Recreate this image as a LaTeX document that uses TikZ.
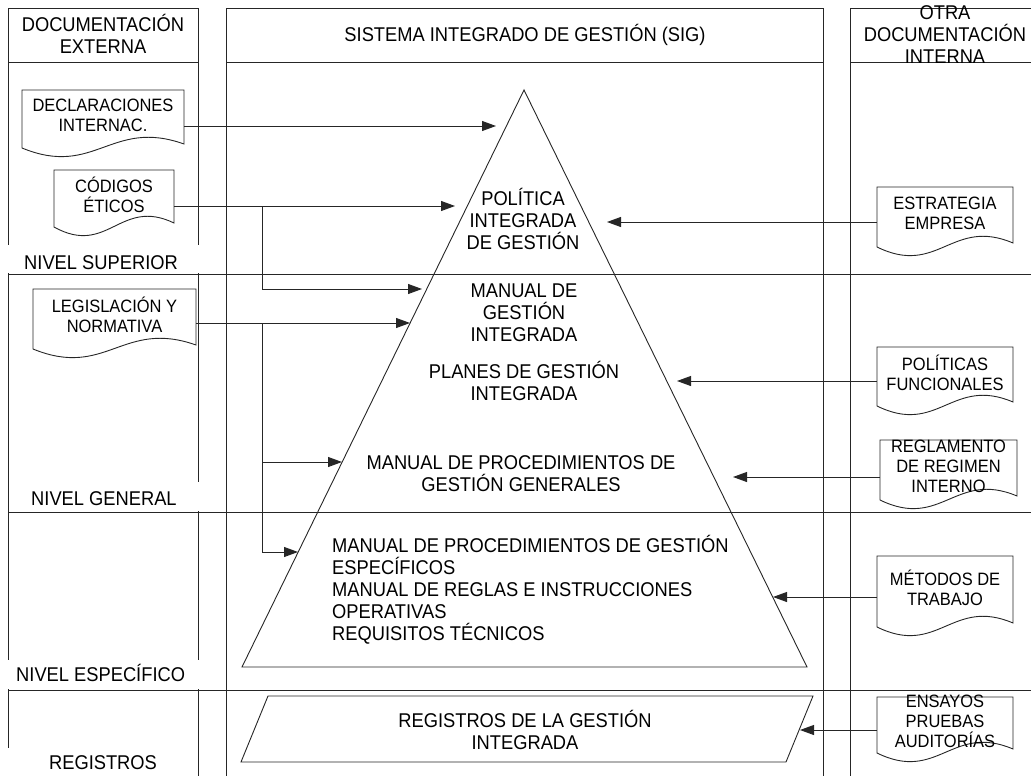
\documentclass[tikz,border=0pt]{standalone}
\usepackage{fontspec}
\setmainfont{Liberation Sans}[FakeStretch=0.92]
\usetikzlibrary{arrows.meta,calc}

% document symbol: straight top and sides, wavy bottom edge
% #1 name, #2 left x, #3 right x, #4 top y, #5 bottom-left y, #6 text
\newcommand\docshape[6]{%
  \draw[shapeline] (#2,#5) -- (#2,#4) -- (#3,#4) -- (#3,#5-4)
    .. controls ({#2+0.55*(#3-#2)},#5-30) and ({#2+0.45*(#3-#2)},#5+30) .. (#2,#5) -- cycle;
  \node[doctext, minimum width={#3-#2}] (#1) at ({(#2+#3)/2},{(#4+#5)/2-4}) {#6};
}

\begin{document}
\begin{tikzpicture}[x=1pt,y=-1pt,
  grid/.style={line width=0.9pt, draw=black!85},
  shapeline/.style={line width=0.9pt, draw=black!85},
  arr/.style={line width=0.9pt, draw=black!85, -{Triangle[length=14pt,width=10pt]}},
  maintext/.style={font=\fontsize{19.9}{22}\selectfont, align=center, inner sep=0pt},
  doctext/.style={font=\fontsize{17.9}{20}\selectfont, align=center, inner sep=0pt},
  lvl/.style={font=\fontsize{19.9}{22}\selectfont, inner sep=0pt},
  labelbg/.style={fill=white, draw=none},
]
\useasboundingbox (0,0) rectangle (1031,776);

% ---- column frames ----
\draw[grid] (8,776) -- (8,8) -- (198,8) -- (198,776);
\draw[grid] (226,776) -- (226,8) -- (823,8) -- (823,776);
\draw[grid] (850,776) -- (850,8) -- (1031,8);
\draw[grid] (8,62) -- (198,62);
\draw[grid] (226,62) -- (823,62);
\draw[grid] (850,62) -- (1031,62);
% level separators
\draw[grid] (8,274) -- (1031,274);
\draw[grid] (8,512) -- (1031,512);
\draw[grid] (8,690) -- (1031,690);

% ---- level labels ----
\fill[labelbg] (0,245) rectangle (199,273);
\node[lvl, anchor=base west] (lsup) at (24,269) {NIVEL SUPERIOR};
\fill[labelbg] (10,482) rectangle (199,511);
\node[lvl, anchor=base west] (lgen) at (31,505) {NIVEL GENERAL};
\fill[labelbg] (0,660) rectangle (199,689);
\node[lvl, anchor=base west] (lesp) at (16,681) {NIVEL ESPECÍFICO};
\fill[labelbg] (0,748) rectangle (197,776);
\node[lvl, anchor=base] (lreg) at (103,769.5) {REGISTROS};

% ---- headers ----
\node[maintext] (hleft) at (103,34) {DOCUMENTACIÓN\\EXTERNA};
\node[maintext] (hmid) at (525,35) {SISTEMA INTEGRADO DE GESTIÓN (SIG)};
\node[maintext] (hright) at (945,35) {OTRA\\DOCUMENTACIÓN\\INTERNA};

% ---- pyramid ----
\coordinate (apex) at (524,90);
\coordinate (bright) at (807,667);
\coordinate (bleft) at (242,667);
\draw[shapeline] (apex) -- (bright) -- (bleft) -- cycle;

\node[maintext] (pol) at (523,219) {POLÍTICA\\INTEGRADA\\DE GESTIÓN};
\node[maintext] (man) at (524,313) {MANUAL DE\\GESTIÓN\\INTEGRADA};
\node[maintext] (plan) at (524,381) {PLANES DE GESTIÓN\\INTEGRADA};
\node[maintext] (mpg) at (521,474) {MANUAL DE PROCEDIMIENTOS DE\\GESTIÓN GENERALES};
\node[maintext, align=left, anchor=west] (mpe) at (332,590)
  {MANUAL DE PROCEDIMIENTOS DE GESTIÓN\\ESPECÍFICOS\\MANUAL DE REGLAS E INSTRUCCIONES\\OPERATIVAS\\REQUISITOS TÉCNICOS};

% ---- records ----
\draw[shapeline] (268,696) -- (813,696) -- (786,762) -- (241,762) -- cycle;
\node[maintext] (reg) at (525,730) {REGISTROS DE LA GESTIÓN\\INTEGRADA};

% ---- external documents ----
\docshape{decl}{22}{184}{90}{148}{DECLARACIONES\\INTERNAC.}
\docshape{cod}{54}{174}{170}{227}{CÓDIGOS\\ÉTICOS}
\docshape{legis}{33}{196}{289}{349}{LEGISLACIÓN Y\\NORMATIVA}

% ---- other internal documents ----
\docshape{estr}{877}{1013}{187}{247}{ESTRATEGIA\\EMPRESA}
\docshape{polf}{877}{1013}{347}{406}{POLÍTICAS\\FUNCIONALES}
\docshape{regl}{880}{1017}{440}{500}{REGLAMENTO\\DE REGIMEN\\INTERNO}
\docshape{met}{877}{1013}{556}{627}{MÉTODOS DE\\TRABAJO}
\docshape{ens}{877}{1013}{697}{753}{ENSAYOS\\PRUEBAS\\AUDITORÍAS}

% ---- arrow targets ----
\coordinate (t1) at (496,126);
\coordinate (t2) at (455,206);
\coordinate (t3) at (422,289);
\coordinate (t4) at (410,323);
\coordinate (t5) at (342,462);
\coordinate (t6) at (298,552);
\coordinate (bx) at (262,0);
\coordinate (r1) at (607,222);
\coordinate (r2) at (677,381);
\coordinate (r3) at (733,477);
\coordinate (r4) at (773,597);
\coordinate (r5) at (800,730);

% ---- connectors ----
\draw[arr] (decl.east |- t1) -- (t1);
\draw[arr] (cod.east |- t2) -- (t2);
\draw[arr] (bx |- t2) |- (t3);
\draw[arr] (legis.east |- t4) -- (t4);
\draw[arr] (bx |- t4) |- (t5);
\draw[arr] (bx |- t4) |- (t6);

\draw[arr] (estr.west |- r1) -- (r1);
\draw[arr] (polf.west |- r2) -- (r2);
\draw[arr] (regl.west |- r3) -- (r3);
\draw[arr] (met.west |- r4) -- (r4);
\draw[arr] (ens.west |- r5) -- (r5);
\end{tikzpicture}
\end{document}
